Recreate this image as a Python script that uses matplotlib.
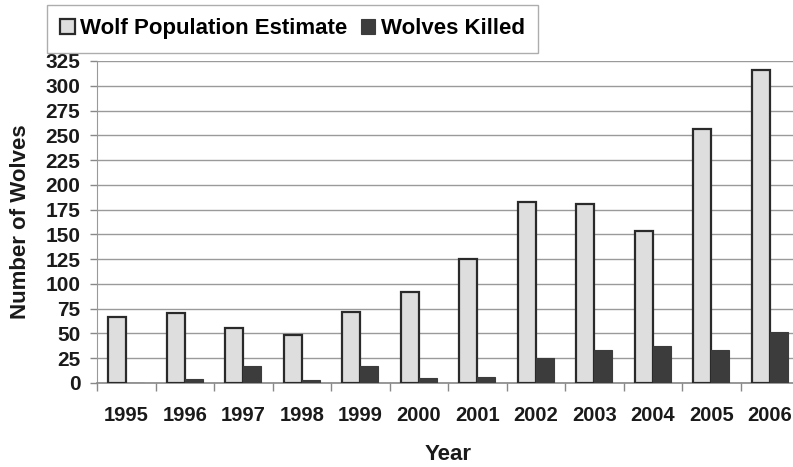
import matplotlib
matplotlib.use("Agg")
import matplotlib.pyplot as plt
import numpy as np

years = ["1995", "1996", "1997", "1998", "1999", "2000", "2001", "2002", "2003", "2004", "2005", "2006"]
population = [67, 71, 56, 48, 72, 92, 125, 183, 181, 153, 256, 316]
killed = [0, 4, 17, 3, 17, 5, 6, 25, 33, 37, 33, 51]
yticks = list(range(0, 326, 25))

plt.rcParams['font.family'] = ['Liberation Sans', 'DejaVu Sans']
plt.rcParams['font.weight'] = 'bold'

fig = plt.figure(figsize=(7.93, 4.67), dpi=100)
ax = fig.add_axes([97/793, 1-383/467, 702/793, (383-61)/467])

x = np.arange(len(years))
w = 0.31
b1 = ax.bar(x - w/2, population, w, color='#dedede', edgecolor='#2a2a2a', linewidth=1.6,
            label='Wolf Population Estimate', zorder=3)
b2 = ax.bar(x + w/2, killed, w, color='#3c3c3c', edgecolor='#3c3c3c', linewidth=0.8,
            label='Wolves Killed', zorder=3)

ax.set_xlim(-0.5, len(years) - 0.5)
ax.set_ylim(0, 325)
ax.set_yticks(yticks)
ax.set_yticklabels([str(t) for t in yticks], fontsize=15, fontweight='bold', color='#1a1a1a')
ax.set_xticks(x)
ax.set_xticklabels(years, fontsize=14.5, fontweight='bold', color='#1a1a1a')
ax.set_xticks(np.arange(-0.5, len(years), 1), minor=True)
ax.tick_params(axis='x', which='major', length=0, pad=16.5)
ax.tick_params(axis='x', which='minor', length=6, color='#888888', width=1)
ax.tick_params(axis='y', length=5, color='#888888', width=1, pad=7)
ax.yaxis.grid(True, color='#9a9a9a', linewidth=1, zorder=0)
ax.set_axisbelow(True)
for s in ['top', 'right']:
    ax.spines[s].set_visible(False)
ax.spines['left'].set_color('#999999')
ax.spines['bottom'].set_color('#888888')
ax.spines['bottom'].set_linewidth(1.2)

ax.set_ylabel('Number of Wolves', fontsize=16, fontweight='bold', color='#1a1a1a', labelpad=10)
ax.set_xlabel('Year', fontsize=16, fontweight='bold', color='#1a1a1a', labelpad=14)

leg = fig.legend(handles=[b1, b2], loc='upper left', bbox_to_anchor=(47/793, 1-5/467),
                 ncol=2, frameon=True, fancybox=False, edgecolor='#999999',
                 prop={'size': 16, 'weight': 'bold'}, handlelength=0.65, handleheight=0.65,
                 handletextpad=0.25, columnspacing=0.6, borderpad=0.6, borderaxespad=0)
leg.get_frame().set_linewidth(1)

fig.savefig('out.png', dpi=100, facecolor='white')
